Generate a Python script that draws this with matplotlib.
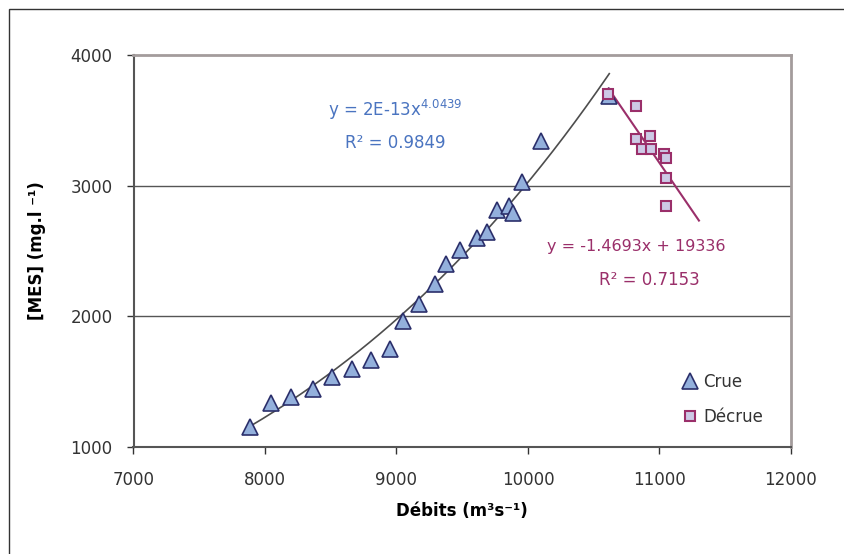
"""Suspended sediment concentration vs discharge (rising / falling limb)."""

import matplotlib

matplotlib.use("Agg")
import matplotlib.pyplot as plt
from matplotlib.patches import Rectangle
import numpy as np

# rising limb (Crue)
crue_q = [7885, 8046, 8198, 8366, 8511, 8664, 8809, 8947, 9053, 9168, 9290,
          9374, 9481, 9611, 9687, 9763, 9855, 9885, 9954, 10099, 10618]
crue_mes = [1153, 1337, 1383, 1444, 1535, 1597, 1666, 1750, 1964, 2094, 2247,
            2400, 2507, 2599, 2645, 2813, 2844, 2790, 3027, 3341, 3686]

# falling limb (Décrue)
decrue_q = [10612, 10824, 10824, 10924, 10868, 10939, 11038, 11051, 11051, 11051]
decrue_mes = [3699, 3609, 3354, 3379, 3283, 3283, 3239, 3214, 3056, 2844]

# trendlines as printed on the chart
power_a, power_b = 2e-13, 4.0439
lin_a, lin_b = -1.4693, 19336
lin_end = 11300

x_ticks = [7000, 8000, 9000, 10000, 11000, 12000]
y_ticks = [1000, 2000, 3000, 4000]

plt.rcParams.update({
    "font.family": "DejaVu Sans",
    "mathtext.default": "regular",
    "text.color": "#333333",
    "xtick.color": "#333333",
    "ytick.color": "#333333",
})

BLUE_TXT = "#4a74c0"
MAROON = "#9a2f6a"

fig = plt.figure(figsize=(8.44, 5.54), dpi=100)
ax = fig.add_axes([133.5 / 844, 1 - 447 / 554, (791 - 133.5) / 844, (447 - 55) / 554])

# outer chart border (only left / top visible in the crop)
fig.patches.append(Rectangle((9 / 844, -0.1), 1.2, 1 - 9 / 554 + 0.1, transform=fig.transFigure,
                             fill=False, edgecolor="#333333", linewidth=1.0))

for yv in [2000, 3000]:
    ax.axhline(yv, color="#555555", linewidth=1.0, zorder=1)

# power trendline on rising limb
xs = np.linspace(min(crue_q), max(crue_q), 200)
ax.plot(xs, power_a * 1.01 * xs ** power_b, color="#4d4d4d", linewidth=1.2, zorder=2)

# linear trendline on falling limb
xl = np.array([min(decrue_q), lin_end])
ax.plot(xl, lin_a * xl + lin_b, color=MAROON, linewidth=1.5, zorder=2)

ax.plot(crue_q, crue_mes, linestyle="none", marker="^", markersize=11,
        markerfacecolor="#93b0dc", markeredgecolor="#2b2f6b", markeredgewidth=1.2,
        label="Crue", zorder=3)
ax.plot(decrue_q, decrue_mes, linestyle="none", marker="s", markersize=7.5,
        markerfacecolor="#cdc9e6", markeredgecolor=MAROON, markeredgewidth=1.5,
        label="Décrue", zorder=4)

ax.text(8990, 3580, r"y = 2E-13x$^{4.0439}$", color=BLUE_TXT, fontsize=12, ha="center", va="center")
ax.text(8990, 3325, "R² = 0.9849", color=BLUE_TXT, fontsize=12, ha="center", va="center")
ax.text(10820, 2535, "y = -1.4693x + 19336", color=MAROON, fontsize=11.5, ha="center", va="center")
ax.text(10920, 2275, "R² = 0.7153", color=MAROON, fontsize=12, ha="center", va="center")

ax.set_xlim(7000, 12000)
ax.set_ylim(1000, 4000)
ax.set_xticks(x_ticks)
ax.set_yticks(y_ticks)
ax.tick_params(axis="both", direction="out", length=5, width=1.0, labelsize=12, color="#333333")
ax.tick_params(axis="x", pad=12)
ax.tick_params(axis="y", pad=10)

for side in ["left", "bottom"]:
    ax.spines[side].set_color("#555555")
    ax.spines[side].set_linewidth(1.5)
for side in ["top", "right"]:
    ax.spines[side].set_color("#a39c9c")
    ax.spines[side].set_linewidth(2.0)

ax.set_xlabel("Débits (m³s⁻¹)", fontsize=12, fontweight="bold", labelpad=10)
ax.set_ylabel("[MES] (mg.l ⁻¹)", fontsize=12, fontweight="bold", labelpad=18)

ax.legend(loc="upper left", bbox_to_anchor=(0.818, 0.21), frameon=False, fontsize=12,
          handletextpad=0.2, labelspacing=1.0, borderpad=0.0, handlelength=1.2)

fig.savefig("out.png", dpi=100)
